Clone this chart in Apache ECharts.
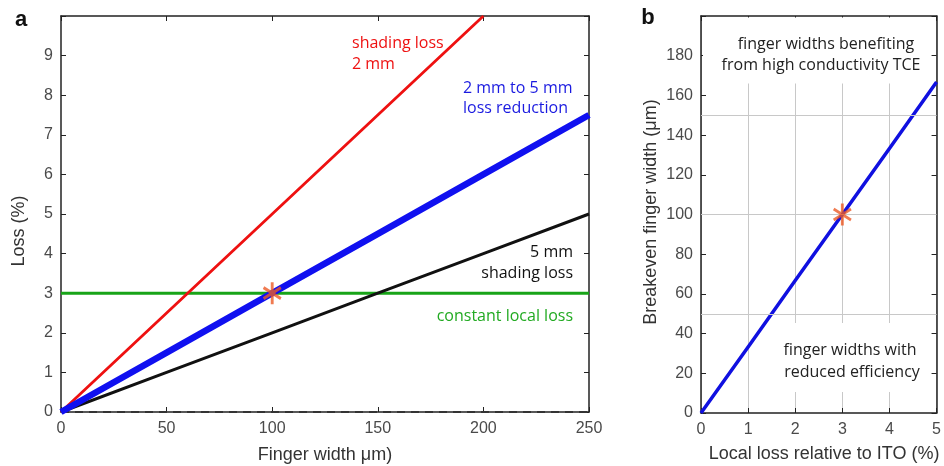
<!DOCTYPE html>
<html>
<head>
<meta charset="utf-8">
<script src="https://cdn.jsdelivr.net/npm/echarts@6/dist/echarts.min.js"></script>
<style>html,body{margin:0;padding:0;background:#fff;}#c{width:944px;height:466px;}</style>
</head>
<body>
<div id="c"></div>
<script>
// ---- Panel a data ----
const fingerWidth = [0, 50, 100, 150, 200, 250];        // µm
const shading2mm = [0, 2.5, 5, 7.5, 10];                // %, up to 200 µm
const lossReduction = [0, 1.5, 3, 4.5, 6, 7.5];         // %
const shading5mm = [0, 1, 2, 3, 4, 5];                  // %
const constantLocalLoss = [3, 3, 3, 3, 3, 3];           // %
const zeroLine = [0, 0, 0, 0, 0, 0];
const pointA = [100, 3];
const xTicksA = [0, 50, 100, 150, 200, 250];
const yTicksA = [0, 1, 2, 3, 4, 5, 6, 7, 8, 9];

// ---- Panel b data ----
const localLossPct = [0, 1, 2, 3, 4, 5];
const breakevenWidth = [0, 33.3, 66.7, 100, 133.3, 166.7];
const pointB = [3, 100];
const refLinesB = [50, 100, 150];
const xTicksB = [0, 1, 2, 3, 4, 5];
const yTicksB = [0, 20, 40, 60, 80, 100, 120, 140, 160, 180];

const pairs = (xs, ys) => ys.map((y, i) => [xs[i], y]);

const axisCol = '#222';
const tickFont = {color: '#4a4a4a', fontSize: 16, fontFamily: 'Liberation Sans, Arial, sans-serif'};
const annoFont = '16px Open Sans, sans-serif';
const titleFont = '18px Liberation Sans, Arial, sans-serif';
const starPath = 'path://M10,0L10,20M1.34,5L18.66,15M1.34,15L18.66,5';
const starCol = '#ec5a26';

function xAx(grid, min, max, interval, ticks, pos, labels, split) {
  return {
    type: 'value', gridIndex: grid, min: min, max: max, interval: interval, position: pos,
    axisLine: {show: true, onZero: false, lineStyle: {color: axisCol, width: 1.5}},
    axisTick: {show: true, inside: true, length: 5, lineStyle: {color: axisCol, width: 1}},
    axisLabel: labels ? Object.assign({show: true, margin: 9,
      formatter: v => ticks.includes(v) ? String(v) : ''}, tickFont) : {show: false},
    splitLine: split ? {show: true, lineStyle: {color: '#c8c8c8', width: 1}} : {show: false}
  };
}
function yAx(grid, min, max, interval, ticks, pos, labels) {
  return {
    type: 'value', gridIndex: grid, min: min, max: max, interval: interval, position: pos,
    axisLine: {show: true, onZero: false, lineStyle: {color: axisCol, width: 1.5}},
    axisTick: {show: true, inside: true, length: 5, lineStyle: {color: axisCol, width: 1}},
    axisLabel: labels ? Object.assign({show: true, margin: 8,
      formatter: v => ticks.includes(v) ? String(v) : ''}, tickFont) : {show: false},
    splitLine: {show: false}
  };
}
const txt = (x, y, text, font, fill, align, rot) => ({
  type: 'text', z: 10, x: x, y: y, rotation: rot || 0, silent: true,
  style: {text: text, font: font, fill: fill, align: align, verticalAlign: 'middle'}
});

const chart = echarts.init(document.getElementById('c'), null, {renderer: 'canvas'});
chart.setOption({
  animation: false,
  backgroundColor: '#fff',
  grid: [
    {left: 61, top: 16, width: 528, height: 396},
    {left: 701, top: 16, width: 241, height: 397}
  ],
  xAxis: [
    xAx(0, 0, 250, 50, xTicksA, 'bottom', true, false),
    xAx(0, 0, 250, 50, xTicksA, 'top', false, false),
    xAx(1, 0, 5, 1, xTicksB, 'bottom', true, true),
    xAx(1, 0, 5, 1, xTicksB, 'top', false, false)
  ],
  yAxis: [
    yAx(0, 0, 10, 1, yTicksA, 'left', true),
    yAx(0, 0, 10, 1, yTicksA, 'right', false),
    yAx(1, 0, 200, 20, yTicksB, 'left', true),
    yAx(1, 0, 200, 20, yTicksB, 'right', false)
  ],
  series: [
    {type: 'line', xAxisIndex: 0, yAxisIndex: 0, data: pairs(fingerWidth, zeroLine), symbol: 'none',
      lineStyle: {color: '#333', width: 2, type: [8, 6]}, z: 2},
    {type: 'line', xAxisIndex: 0, yAxisIndex: 0, data: pairs(fingerWidth, constantLocalLoss), symbol: 'none',
      lineStyle: {color: '#18a418', width: 3}, z: 3},
    {type: 'line', xAxisIndex: 0, yAxisIndex: 0, data: pairs(fingerWidth, shading5mm), symbol: 'none',
      lineStyle: {color: '#111', width: 3}, z: 3},
    {type: 'line', xAxisIndex: 0, yAxisIndex: 0, data: pairs(fingerWidth, shading2mm), symbol: 'none',
      lineStyle: {color: '#ee1111', width: 2.8}, z: 3},
    {type: 'line', xAxisIndex: 0, yAxisIndex: 0, data: pairs(fingerWidth, lossReduction), symbol: 'none',
      lineStyle: {color: '#1010f0', width: 6.5}, z: 4},
    {type: 'scatter', xAxisIndex: 0, yAxisIndex: 0, data: [pointA], symbol: starPath, symbolKeepAspect: true,
      symbolSize: [20, 22], itemStyle: {color: 'rgba(0,0,0,0)', borderColor: starCol, borderWidth: 3}, z: 6},
    {type: 'line', xAxisIndex: 2, yAxisIndex: 2, data: pairs(localLossPct, breakevenWidth), symbol: 'none',
      lineStyle: {color: '#1010e0', width: 3.5}, z: 4,
      markLine: {silent: true, symbol: 'none', label: {show: false}, animation: false,
        lineStyle: {color: '#c8c8c8', width: 1, type: 'solid'},
        data: refLinesB.map(v => ({yAxis: v}))}},
    {type: 'scatter', xAxisIndex: 2, yAxisIndex: 2, data: [pointB], symbol: starPath, symbolKeepAspect: true,
      symbolSize: [20, 22], itemStyle: {color: 'rgba(0,0,0,0)', borderColor: starCol, borderWidth: 3}, z: 6}
  ],
  graphic: [
    {type: 'rect', z: 1, silent: true, shape: {x: 703, y: 17.5, width: 212, height: 66}, style: {fill: '#fff'}},
    {type: 'rect', z: 1, silent: true, shape: {x: 778, y: 323, width: 137, height: 69}, style: {fill: '#fff'}},
    // panel letters
    txt(21, 20, 'a', 'bold 22px Liberation Sans, Arial', '#111', 'center'),
    txt(648, 18, 'b', 'bold 22px Liberation Sans, Arial', '#111', 'center'),
    // axis titles
    txt(325, 455, 'Finger width μm)', titleFont, '#333', 'center'),
    txt(19, 231, 'Loss (%)', titleFont, '#333', 'center', Math.PI / 2),
    txt(824, 454, 'Local loss relative to ITO (%)', titleFont, '#333', 'center'),
    txt(651, 212, 'Breakeven finger width (μm)', titleFont, '#333', 'center', Math.PI / 2),
    // panel a annotations
    txt(352, 43, 'shading loss', annoFont, '#ee1111', 'left'),
    txt(352, 64, '2 mm', annoFont, '#ee1111', 'left'),
    txt(463, 88, '2 mm to 5 mm', annoFont, '#1a1ae0', 'left'),
    txt(463, 108, 'loss reduction', annoFont, '#1a1ae0', 'left'),
    txt(573, 252, '5 mm', annoFont, '#111', 'right'),
    txt(573, 273, 'shading loss', annoFont, '#111', 'right'),
    txt(573, 316, 'constant local loss', annoFont, '#22aa22', 'right'),
    // panel b annotations
    txt(826, 44, 'finger widths benefiting', annoFont, '#222', 'center'),
    txt(821, 65, 'from high conductivity TCE', annoFont, '#222', 'center'),
    txt(850, 350, 'finger widths with', annoFont, '#222', 'center'),
    txt(852, 372, 'reduced efficiency', annoFont, '#222', 'center')
  ]
});
</script>
</body>
</html>
